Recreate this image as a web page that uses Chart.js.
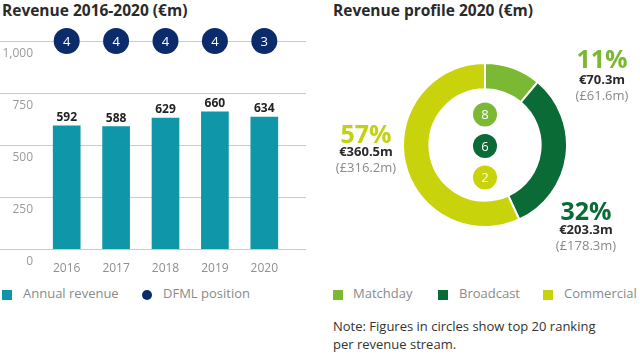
<!DOCTYPE html>
<html><head><meta charset="utf-8">
<script src="https://cdn.jsdelivr.net/npm/chart.js@4.4.1/dist/chart.umd.min.js"></script>
<style>
body{margin:0;width:640px;height:355px;background:#fff;font-family:"Open Sans",sans-serif;position:relative;overflow:hidden}
.abs{position:absolute;white-space:nowrap}
.title{font-size:15.5px;font-weight:700;color:#2a2a2a;line-height:15px}
.leg{font-size:13px;color:#8a8a8a;line-height:13px}
.sq{position:absolute;width:10px;height:10px}
.big{font-size:25px;font-weight:700;line-height:25px;text-align:center;width:120px}
.eur{font-size:13px;font-weight:700;color:#2a2a2a;line-height:13px;text-align:center;width:120px}
.gbp{font-size:13px;color:#8a8a8a;line-height:13px;text-align:center;width:120px}
.note{font-size:13px;color:#333;line-height:13px}
</style></head><body>
<div class="abs title" style="left:2px;top:3px">Revenue 2016-2020 (€m)</div>
<div class="abs title" style="left:333px;top:3px">Revenue profile 2020 (€m)</div>
<div class="abs" style="left:0;top:0;width:320px;height:280px"><canvas id="bar"></canvas></div>
<div class="abs" style="left:400px;top:60px;width:170px;height:170px"><canvas id="donut"></canvas></div>
<div id="legL"></div>
<div id="legR"></div>
<div id="ann"></div>
<div class="abs note" style="left:333px;top:320px">Note: Figures in circles show top 20 ranking</div>
<div class="abs note" style="left:333px;top:338px">per revenue stream.</div>
<script>
// ---- data ----
const years = ['2016','2017','2018','2019','2020'];
const revenue = [592, 588, 629, 660, 634];
const dfml = [4, 4, 4, 4, 3];
const yTicks = [0, 250, 500, 750, 1000];
const yTickLabels = ['0', '250', '500', '750', '1,000'];
const dfmlRow = 1000;

const streams = ['Matchday', 'Broadcast', 'Commercial'];
const streamEur = [70.3, 203.3, 360.5];
const streamGbp = [61.6, 178.3, 316.2];
const streamRank = [8, 6, 2];

// ---- styles ----
const TEAL = '#0f96a9', NAVY = '#0b2b6b';
const STREAM_COLORS = ['#7bb833', '#0b6b37', '#c8d30b'];
const STREAM_TEXT = ['#7ab82e', '#0b6b37', '#c3d10f'];

Chart.defaults.font.family = '"Open Sans", sans-serif';
Chart.defaults.animation = false;

const barDecor = {
  id: 'barDecor',
  beforeDatasetsDraw(chart) {
    const ctx = chart.ctx, ys = chart.scales.y;
    ctx.save();
    ctx.strokeStyle = '#cacaca'; ctx.lineWidth = 1;
    ctx.font = '12px "Open Sans"'; ctx.fillStyle = '#9a9a9a';
    ctx.textAlign = 'right'; ctx.textBaseline = 'alphabetic';
    yTicks.forEach((v, i) => {
      const py = Math.round(ys.getPixelForValue(v)) + 0.5;
      ctx.beginPath(); ctx.moveTo(0, py); ctx.lineTo(306, py); ctx.stroke();
      ctx.fillText(yTickLabels[i], 33, py + 15.5);
    });
    ctx.restore();
  },
  afterDatasetsDraw(chart) {
    const ctx = chart.ctx;
    ctx.save();
    ctx.textAlign = 'center';
    const bars = chart.getDatasetMeta(0).data;
    ctx.font = 'bold 12px "Open Sans"'; ctx.fillStyle = '#222';
    ctx.textBaseline = 'alphabetic';
    bars.forEach((b, i) => ctx.fillText(String(revenue[i]), b.x, b.y - 5));
    const pts = chart.getDatasetMeta(1).data;
    ctx.font = '13px "Open Sans"'; ctx.fillStyle = '#fff'; ctx.textBaseline = 'middle';
    pts.forEach((p, i) => ctx.fillText(String(dfml[i]), p.x, p.y + 1));
    ctx.restore();
  }
};

new Chart(document.getElementById('bar'), {
  type: 'bar',
  data: {
    labels: years,
    datasets: [
      { type: 'bar', label: 'Annual revenue', data: revenue, backgroundColor: TEAL, barThickness: 27 },
      { type: 'line', label: 'DFML position', data: dfml.map(() => dfmlRow), showLine: false,
        pointRadius: 13, pointHoverRadius: 13, pointBackgroundColor: NAVY, pointBorderWidth: 0, clip: false }
    ]
  },
  options: {
    responsive: true, maintainAspectRatio: false,
    layout: { padding: { left: 42, right: 31, top: 41, bottom: 0 } },
    plugins: { legend: { display: false }, tooltip: { enabled: false } },
    scales: {
      y: { display: false, min: 0, max: 1000 },
      x: { grid: { display: false }, border: { display: false },
           ticks: { color: '#8e8e8e', font: { size: 12 }, padding: 4 },
           afterFit(s) { s.height = 31; } }
    }
  },
  plugins: [barDecor]
});

const rankPlugin = {
  id: 'ranks',
  afterDatasetsDraw(chart) {
    const ctx = chart.ctx;
    const arc = chart.getDatasetMeta(0).data[0];
    const cx = arc.x, cy = arc.y;
    ctx.save();
    ctx.font = '13px "Open Sans"'; ctx.textAlign = 'center'; ctx.textBaseline = 'middle';
    streamRank.forEach((r, i) => {
      const py = cy + 1 + (i - 1) * 31.5;
      ctx.beginPath(); ctx.arc(cx, py, 12, 0, Math.PI * 2);
      ctx.fillStyle = STREAM_COLORS[i]; ctx.fill();
      ctx.fillStyle = '#fff'; ctx.fillText(String(r), cx, py + 1);
    });
    ctx.restore();
  }
};

new Chart(document.getElementById('donut'), {
  type: 'doughnut',
  data: { labels: streams, datasets: [{ data: streamEur, backgroundColor: STREAM_COLORS, borderColor: '#fff', borderWidth: 2 }] },
  options: {
    responsive: true, maintainAspectRatio: false,
    radius: 82, cutout: 57,
    plugins: { legend: { display: false }, tooltip: { enabled: false } }
  },
  plugins: [rankPlugin]
});

// ---- legends ----
const legL = document.getElementById('legL');
legL.innerHTML =
  `<div class="sq" style="left:2px;top:290px;background:${TEAL}"></div>
   <div class="abs leg" style="left:23px;top:287px">Annual revenue</div>
   <div class="sq" style="left:142px;top:290px;background:${NAVY};border-radius:50%"></div>
   <div class="abs leg" style="left:163px;top:287px">DFML position</div>`;
const legR = document.getElementById('legR');
const legX = [[333, 353], [438, 459], [543, 564]];
legR.innerHTML = streams.map((s, i) =>
  `<div class="sq" style="left:${legX[i][0]}px;top:290px;background:${STREAM_COLORS[i]}"></div>
   <div class="abs leg" style="left:${legX[i][1]}px;top:287px">${s}</div>`).join('');

// ---- annotations (Matchday, Broadcast, Commercial) ----
const total = streamEur.reduce((a, b) => a + b, 0);
const annPos = [[602, 45.5, 72.5, 88.5], [586, 197.5, 222.5, 238.5], [366, 120.5, 144.5, 161]];
document.getElementById('ann').innerHTML = streams.map((s, i) => {
  const [cx, t1, t2, t3] = annPos[i];
  const pct = Math.round(streamEur[i] / total * 100);
  return `<div class="abs big" style="left:${cx - 60}px;top:${t1}px;color:${STREAM_TEXT[i]}">${pct}%</div>
    <div class="abs eur" style="left:${cx - 60}px;top:${t2}px">€${streamEur[i].toFixed(1)}m</div>
    <div class="abs gbp" style="left:${cx - 60}px;top:${t3}px">(£${streamGbp[i].toFixed(1)}m)</div>`;
}).join('');
</script>
</body></html>
